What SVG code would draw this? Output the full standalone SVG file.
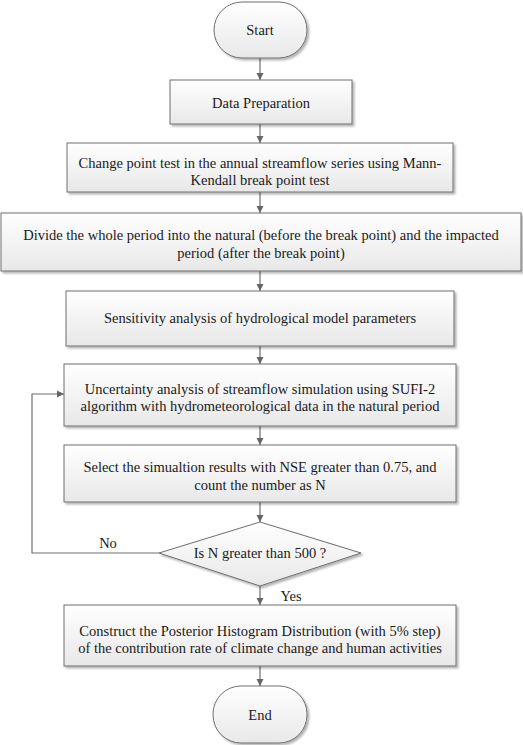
<svg xmlns="http://www.w3.org/2000/svg" width="523" height="745" viewBox="0 0 523 745" font-family="Liberation Serif, serif">
<defs>
<linearGradient id="g" x1="0" y1="0" x2="0" y2="1">
<stop offset="0" stop-color="#ffffff"/>
<stop offset="1" stop-color="#e8e8e8"/>
</linearGradient>
<filter id="sh" x="-5%" y="-5%" width="115%" height="130%">
<feGaussianBlur in="SourceAlpha" stdDeviation="1.2"/>
<feOffset dx="1.5" dy="1.5" result="b"/>
<feComponentTransfer><feFuncA type="linear" slope="0.3"/></feComponentTransfer>
<feMerge><feMergeNode/><feMergeNode in="SourceGraphic"/></feMerge>
</filter>
<marker id="ar" markerWidth="8" markerHeight="8" refX="7" refY="4" orient="auto" markerUnits="userSpaceOnUse">
<path d="M0,0.5 L7,4 L0,7.5 Z" fill="#666"/>
</marker>
</defs>
<style>
.n{fill:url(#g);stroke:#6e6e6e;stroke-width:1;filter:url(#sh)}
text{font-family:'Liberation Serif','DejaVu Serif',serif;font-size:14.5px;fill:#1a1a1a;text-anchor:middle;dominant-baseline:central}
.c{fill:none;stroke:#6e6e6e;stroke-width:1.2}
</style>
<g id="connectors">
<path class="c" d="M260,58 V80" marker-end="url(#ar)"/>
<path class="c" d="M260,124 V143" marker-end="url(#ar)"/>
<path class="c" d="M260,192 V213" marker-end="url(#ar)"/>
<path class="c" d="M260,271 V291" marker-end="url(#ar)"/>
<path class="c" d="M260,346 V364" marker-end="url(#ar)"/>
<path class="c" d="M260,426 V445" marker-end="url(#ar)"/>
<path class="c" d="M260,502 V522" marker-end="url(#ar)"/>
<path class="c" d="M159,553 H32 V394 H64" marker-end="url(#ar)"/>
<path class="c" d="M260,586 V605" marker-end="url(#ar)"/>
<path class="c" d="M260,666 V686" marker-end="url(#ar)"/>
<text x="108" y="543">No</text>
<text x="291" y="596">Yes</text>
</g>
<g id="start">
<rect class="n" x="214" y="2" width="93" height="56" rx="28" ry="28"/>
<text x="260" y="30">Start</text>
</g>
<g id="data-preparation">
<rect class="n" x="170" y="80" width="182" height="44"/>
<text x="261" y="103">Data Preparation</text>
</g>
<g id="change-point">
<rect class="n" x="67" y="143" width="386" height="49"/>
<text x="260" y="163">Change point test in the annual streamflow series using Mann-</text>
<text x="260" y="180">Kendall break point test</text>
</g>
<g id="divide">
<rect class="n" x="1" y="213" width="520" height="58"/>
<text x="261" y="235">Divide the whole period into the natural (before the break point) and the impacted</text>
<text x="261" y="253">period (after the break point)</text>
</g>
<g id="sensitivity">
<rect class="n" x="66" y="291" width="388" height="55"/>
<text x="260" y="318">Sensitivity analysis of hydrological model parameters</text>
</g>
<g id="uncertainty">
<rect class="n" x="64" y="364" width="392" height="62"/>
<text x="260" y="389">Uncertainty analysis of streamflow simulation using SUFI-2</text>
<text x="260" y="406">algorithm with hydrometeorological data in the natural period</text>
</g>
<g id="select">
<rect class="n" x="64" y="445" width="392" height="57"/>
<text x="260" y="467">Select the simualtion results with NSE greater than 0.75, and</text>
<text x="260" y="485">count the number as N</text>
</g>
<g id="decision">
<polygon class="n" points="260,522 361,553 260,586 159,553"/>
<text x="260" y="553">Is N greater than 500 ?</text>
</g>
<g id="construct">
<rect class="n" x="64" y="605" width="392" height="61"/>
<text x="260" y="631">Construct the Posterior Histogram Distribution (with 5% step)</text>
<text x="260" y="648">of the contribution rate of climate change and human activities</text>
</g>
<g id="end">
<rect class="n" x="213" y="686" width="94" height="57" rx="28" ry="28"/>
<text x="260" y="715">End</text>
</g>
</svg>
